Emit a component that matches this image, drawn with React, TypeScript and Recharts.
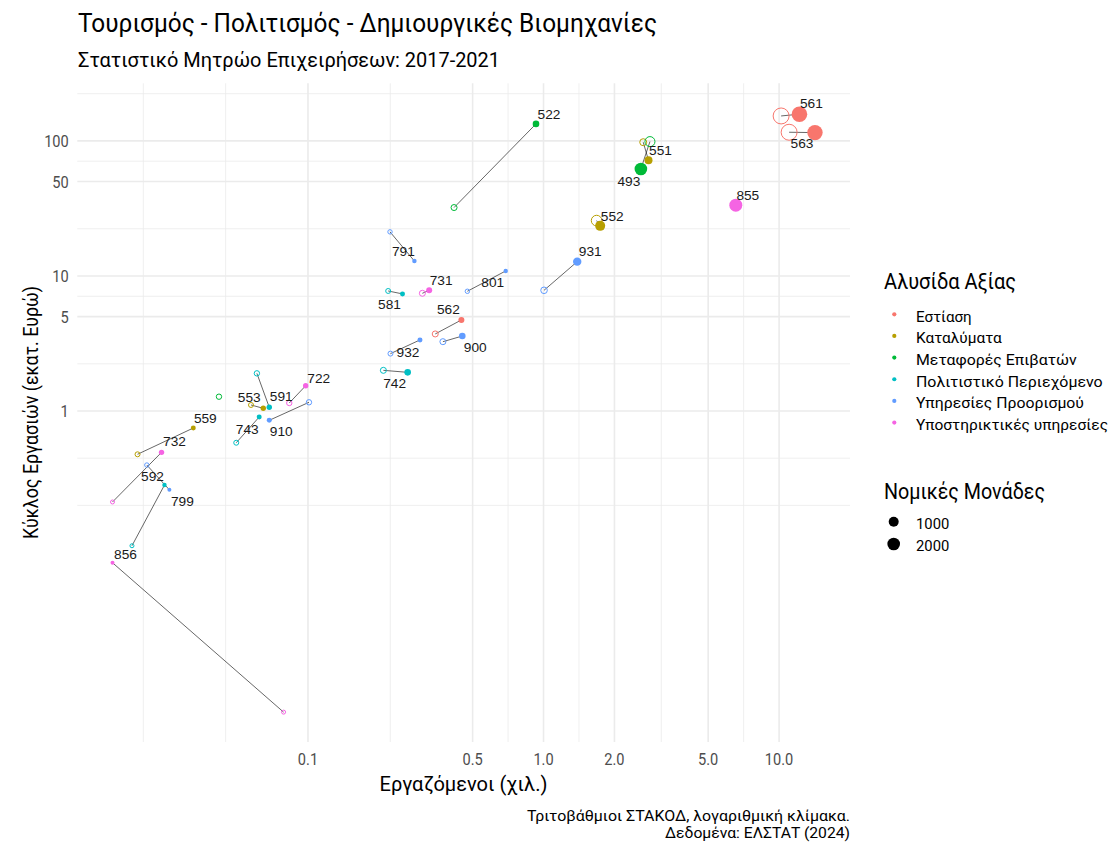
import React from 'react';
import { ScatterChart, Scatter, XAxis, YAxis, ZAxis, ReferenceLine } from 'recharts';

const W = 1113;
const H = 843;

const categories = [
  'Εστίαση',
  'Καταλύματα',
  'Μεταφορές Επιβατών',
  'Πολιτιστικό Περιεχόμενο',
  'Υπηρεσίες Προορισμού',
  'Υποστηρικτικές υπηρεσίες',
];
const palette = ['#F8766D', '#B79F00', '#00BA38', '#00BFC4', '#619CFF', '#F564E3'];

const codes = ['561', '563', '551', '493', '855', '522', '552', '931', '801', '791', '581', '731', '562', '900', '932', '742', '722', '591', '553', '743', '910', '559', '732', '592', '799', '856', ''];
const catIndex = [0, 0, 1, 2, 5, 2, 1, 4, 4, 4, 3, 5, 0, 4, 4, 3, 5, 3, 1, 3, 4, 1, 5, 3, 4, 5, 2];

// 2017 (hollow)
const emp2017 = [10.2, 11.03, 2.65, 2.83, null, 0.417, 1.68, 1.005, 0.475, 0.223, 0.219, 0.306, 0.347, 0.374, 0.224, 0.209, 0.0833, 0.0607, 0.0573, 0.0496, 0.101, 0.0189, 0.0148, 0.0179, 0.0207, 0.0788, 0.0419];
const turn2017 = [153, 115.9, 97.8, 98.8, null, 32.1, 25.7, 7.83, 7.7, 21.2, 7.74, 7.44, 3.72, 3.26, 2.66, 2.0, 1.146, 1.9, 1.108, 0.582, 1.16, 0.478, 0.212, 0.1005, 0.398, 0.00589, 1.276];
const units2017 = [3500, 3500, 670, 1380, null, 500, 1550, 600, 270, 270, 340, 500, 500, 500, 340, 500, 400, 400, 340, 340, 400, 340, 220, 220, 270, 220, 400];

// 2021 (filled)
const emp2021 = [12.2, 14.2, 2.79, 2.59, 6.55, 0.929, 1.74, 1.39, 0.691, 0.283, 0.252, 0.327, 0.448, 0.452, 0.299, 0.265, 0.0978, 0.0685, 0.0646, 0.0621, 0.0685, 0.0326, 0.0239, 0.0246, 0.0258, 0.0148, null];
const turn2021 = [157.7, 115.2, 71.9, 62.0, 33.4, 133.6, 23.5, 12.76, 10.89, 12.9, 7.36, 7.83, 4.72, 3.59, 3.36, 1.933, 1.539, 1.065, 1.047, 0.903, 0.853, 0.748, 0.494, 0.283, 0.261, 0.0752, null];
const units2021 = [3350, 3260, 880, 2180, 2320, 600, 1380, 970, 270, 270, 340, 500, 500, 600, 340, 600, 400, 400, 400, 340, 340, 340, 400, 270, 220, 220, null];

// label nudges (px) – repel-style placement
const labelDx = [12, -13, 12, -12, 12, 13, 12, 13, -13, -11, -13, 12, -13, 13, -12, -13, 13, 12, -14, -12, 12, 12, 13, -12, 13, 13, 0];
const labelDy = [-11, 10, -10, 12, -10, -10, -10, -11, 11, -10, 10, -10, -11, 11, 12, 11, -8, -11, -11, 12, 11, -10, -11, -9, 11, -9, 0];

const xTicks = [0.1, 0.5, 1, 2, 5, 10];
const xTickLabels = ['0.1', '0.5', '1.0', '2.0', '5.0', '10.0'];
const yTicks = [1, 5, 10, 50, 100];
const yTickLabels = ['1', '5', '10', '50', '100'];
const xDomain: [number, number] = [0.01049, 20.0];
const yDomain: [number, number] = [0.00354, 267];

const sizeLegend = ['1000', '2000'];

function minorBreaks(major: number[], domain: number[]) {
  const lb = major.map(Math.log10);
  const bd = lb[1] - lb[0];
  const lo = Math.log10(domain[0]);
  const hi = Math.log10(domain[1]);
  let b = [...lb];
  if (lo < b[0]) b = [b[0] - bd, ...b];
  if (hi > b[b.length - 1]) b = [...b, b[b.length - 1] + bd];
  const out: number[] = [];
  for (let i = 0; i < b.length - 1; i++) {
    out.push(b[i], (b[i] + b[i + 1]) / 2);
  }
  out.push(b[b.length - 1]);
  return out
    .filter((v) => !lb.some((m) => Math.abs(m - v) < 1e-9))
    .map((v) => Math.pow(10, v))
    .filter((v) => v > domain[0] && v < domain[1]);
}

const xMinor = minorBreaks(xTicks, xDomain);
const yMinor = minorBreaks(yTicks, yDomain);

const rows = codes.map((code, i) => ({
  code,
  cat: catIndex[i],
  x17: emp2017[i],
  y17: turn2017[i],
  u17: units2017[i],
  x21: emp2021[i],
  y21: turn2021[i],
  u21: units2021[i],
  dx: labelDx[i],
  dy: labelDy[i],
}));

const data2017 = rows.filter((r) => r.x17 != null).map((r) => ({ x: r.x17, y: r.y17, u: r.u17, cat: r.cat }));
const data2021 = rows
  .filter((r) => r.x21 != null)
  .map((r) => ({ x: r.x21, y: r.y21, u: r.u21, cat: r.cat, code: r.code, dx: r.dx, dy: r.dy }));
const segs = rows.filter((r) => r.x17 != null && r.x21 != null);

const radiusOf = (p: any) => {
  if (p.width != null && !isNaN(p.width)) return p.width / 2;
  return Math.sqrt((p.size ?? 64) / Math.PI);
};

const HollowDot = (p: any) => {
  const r = radiusOf(p);
  return <circle cx={p.cx} cy={p.cy} r={r} fill="none" stroke={palette[p.payload.cat]} strokeWidth={1} />;
};
const FilledDot = (p: any) => {
  const r = radiusOf(p);
  return <circle cx={p.cx} cy={p.cy} r={r} fill={palette[p.payload.cat]} stroke="none" />;
};
const CodeLabel = (p: any) => {
  const d = p.payload;
  if (!d.code) return <g />;
  return (
    <text
      x={p.cx + d.dx}
      y={p.cy + d.dy}
      dy="0.36em"
      textAnchor="middle"
      fontFamily="'Liberation Sans', Arial, sans-serif"
      fontSize={13.7}
      fill="#1a1a1a"
    >
      {d.code}
    </text>
  );
};

const XTick = (p: any) => {
  const i = xTicks.indexOf(p.payload.value);
  return (
    <g transform={`translate(${p.x},${p.y})`}>
      <text transform="scale(0.86,1)" textAnchor="middle" dy="0.71em" fontFamily="Roboto" fontSize={17} fill="#4D4D4D">
        {i >= 0 ? xTickLabels[i] : String(p.payload.value)}
      </text>
    </g>
  );
};
const YTick = (p: any) => {
  const i = yTicks.indexOf(p.payload.value);
  return (
    <g transform={`translate(${p.x},${p.y})`}>
      <text transform="scale(0.86,1)" textAnchor="end" dy="0.355em" fontFamily="Roboto" fontSize={17} fill="#4D4D4D">
        {i >= 0 ? yTickLabels[i] : String(p.payload.value)}
      </text>
    </g>
  );
};

const legendTextLen = [55.7, 85.7, 160.7, 186.7, 168, 192];

export default function App() {
  const font = 'Roboto';
  return (
    <div style={{ position: 'absolute', left: 0, top: 0, width: W, height: H, background: '#fff' }}>
      <ScatterChart width={W} height={H} margin={{ top: 83.3, right: 263, bottom: 71, left: 17.3 }}>
        <XAxis
          type="number"
          dataKey="x"
          scale="log"
          domain={xDomain}
          allowDataOverflow
          ticks={xTicks}
          tick={<XTick />}
          tickLine={false}
          axisLine={false}
          tickSize={0}
          tickMargin={11}
          height={30}
          interval={0}
        />
        <YAxis
          type="number"
          dataKey="y"
          scale="log"
          domain={yDomain}
          allowDataOverflow
          ticks={yTicks}
          tick={<YTick />}
          tickLine={false}
          axisLine={false}
          tickSize={0}
          tickMargin={8.5}
          width={60}
          interval={0}
        />
        <ZAxis type="number" dataKey="u" domain={[0, 3500]} range={[0, 200]} />
        {xMinor.map((v, i) => (
          <ReferenceLine key={'xm' + i} x={v} stroke="#EBEBEB" strokeWidth={0.8} />
        ))}
        {yMinor.map((v, i) => (
          <ReferenceLine key={'ym' + i} y={v} stroke="#EBEBEB" strokeWidth={0.8} />
        ))}
        {xTicks.map((v, i) => (
          <ReferenceLine key={'xM' + i} x={v} stroke="#EBEBEB" strokeWidth={1.6} />
        ))}
        {yTicks.map((v, i) => (
          <ReferenceLine key={'yM' + i} y={v} stroke="#EBEBEB" strokeWidth={1.6} />
        ))}
        <Scatter data={data2017} shape={<HollowDot />} isAnimationActive={false} />
        <Scatter data={data2021} shape={<FilledDot />} isAnimationActive={false} />
        {segs.map((r, i) => (
          <ReferenceLine
            key={'s' + i}
            segment={[
              { x: r.x17 as number, y: r.y17 as number },
              { x: r.x21 as number, y: r.y21 as number },
            ]}
            stroke="#000"
            strokeWidth={0.6}
          />
        ))}
        <Scatter data={data2021} shape={<CodeLabel />} isAnimationActive={false} />
      </ScatterChart>
      <svg
        width={W}
        height={H}
        style={{ position: 'absolute', left: 0, top: 0, pointerEvents: 'none' }}
        fontFamily={font}
      >
        <text x={78} y={32} fontSize={26} fill="#000" textLength={579} lengthAdjust="spacingAndGlyphs">
          Τουρισμός - Πολιτισμός - Δημιουργικές Βιομηχανίες
        </text>
        <text x={78} y={67} fontSize={20.5} fill="#000" textLength={422} lengthAdjust="spacingAndGlyphs">
          Στατιστικό Μητρώο Επιχειρήσεων: 2017-2021
        </text>
        <text x={463.5} y={791} fontSize={21} fill="#000" textAnchor="middle" textLength={168} lengthAdjust="spacingAndGlyphs">
          Εργαζόμενοι (χιλ.)
        </text>
        <text
          transform="translate(37.7,412.5) rotate(-90)"
          fontSize={21}
          fill="#000"
          textAnchor="middle"
          textLength={253}
          lengthAdjust="spacingAndGlyphs"
        >
          Κύκλος Εργασιών (εκατ. Ευρώ)
        </text>
        <text x={850} y={820.5} fontSize={15.5} fill="#000" textAnchor="end" textLength={323} lengthAdjust="spacingAndGlyphs">
          Τριτοβάθμιοι ΣΤΑΚΟΔ, λογαριθμική κλίμακα.
        </text>
        <text x={850} y={838} fontSize={15.5} fill="#000" textAnchor="end" textLength={185} lengthAdjust="spacingAndGlyphs">
          Δεδομένα: ΕΛΣΤΑΤ (2024)
        </text>
        <text x={884} y={289.3} fontSize={21.5} fill="#000" textLength={132} lengthAdjust="spacingAndGlyphs">
          Αλυσίδα Αξίας
        </text>
        {categories.map((c, i) => (
          <g key={c}>
            <circle cx={894.3} cy={314.3 + i * 21.65} r={2.1} fill={palette[i]} />
            <text
              x={916}
              y={321.7 + i * 21.65}
              fontSize={15.5}
              fill="#000"
              textLength={legendTextLen[i]}
              lengthAdjust="spacingAndGlyphs"
            >
              {c}
            </text>
          </g>
        ))}
        <text x={884} y={499.3} fontSize={21.5} fill="#000" textLength={161} lengthAdjust="spacingAndGlyphs">
          Νομικές Μονάδες
        </text>
        {sizeLegend.map((s, i) => (
          <g key={s}>
            <circle cx={893.7} cy={521.7 + i * 22.3} r={i === 0 ? 5 : 6.3} fill="#000" />
            <text x={916} y={528.7 + i * 22.3} fontSize={15.5} fill="#000" textLength={33.3} lengthAdjust="spacingAndGlyphs">
              {s}
            </text>
          </g>
        ))}
      </svg>
    </div>
  );
}
